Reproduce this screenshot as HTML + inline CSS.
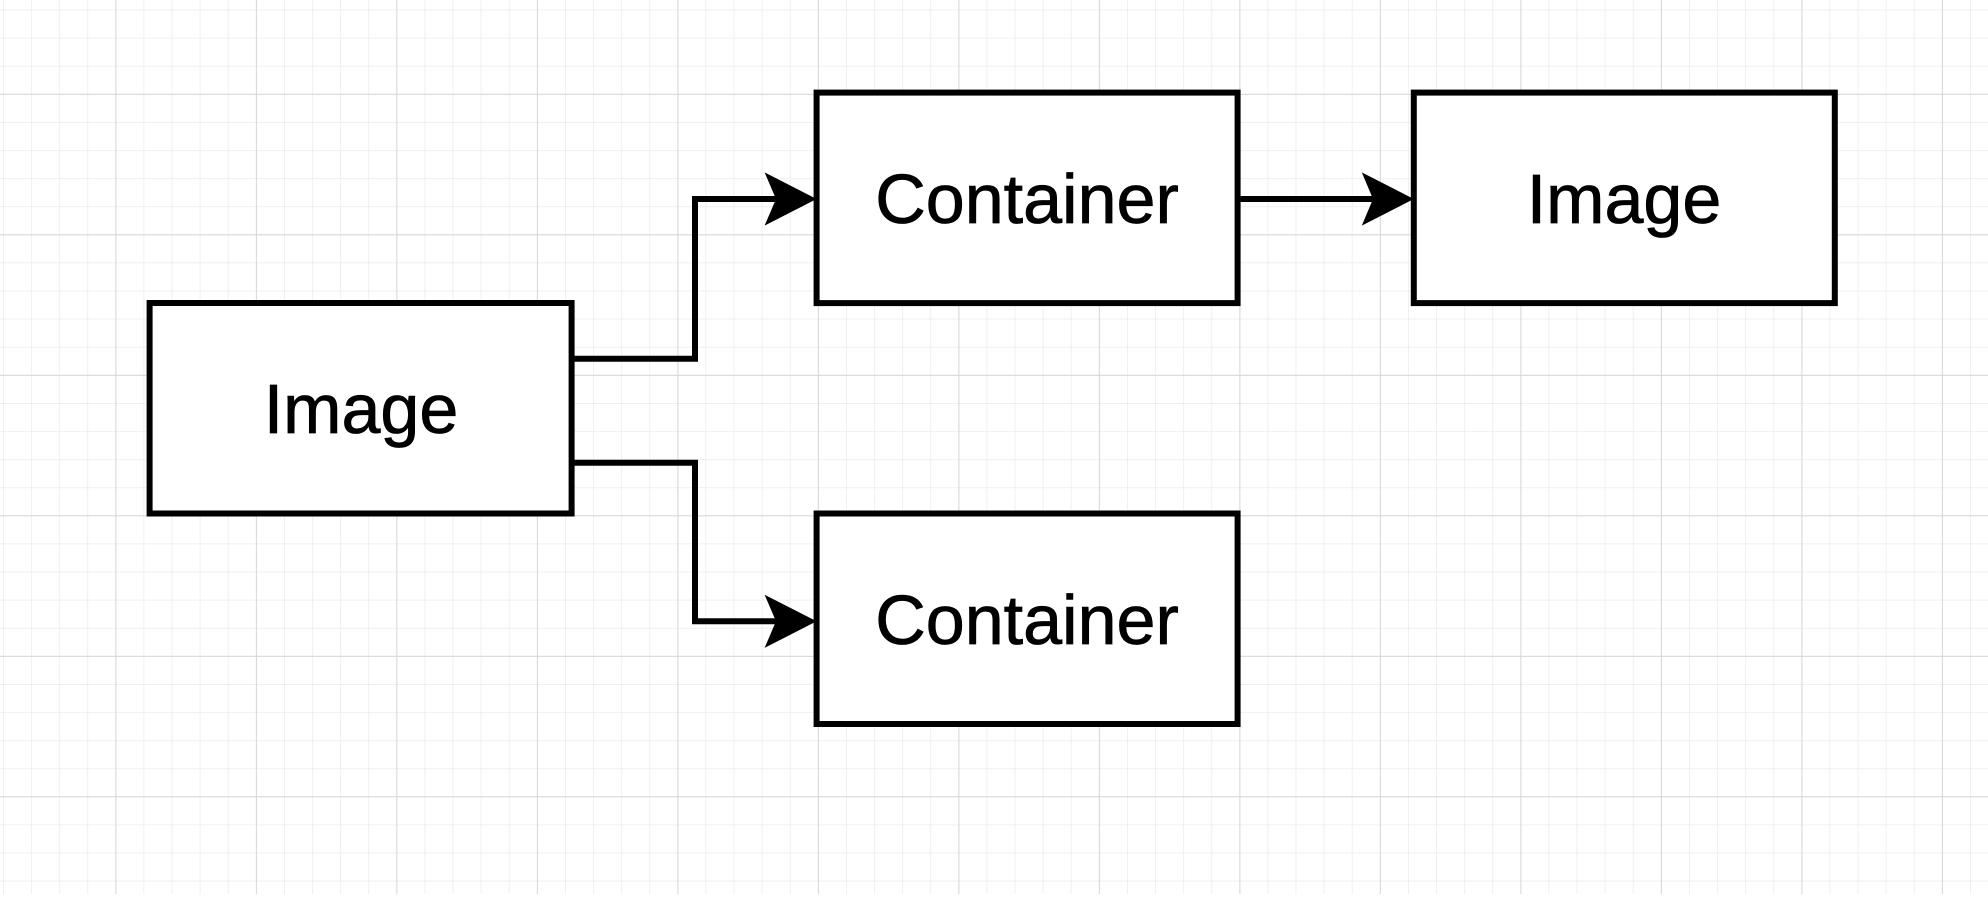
<!DOCTYPE html>
<html><head><meta charset="utf-8"><style>
html,body{margin:0;padding:0;background:#fff;}
body{width:1988px;height:894px;overflow:hidden;}
</style></head><body>
<svg width="1988" height="894" viewBox="0 0 1988 894" xmlns="http://www.w3.org/2000/svg">
<defs>
<pattern id="minor" x="3" y="9.6" width="28.1" height="28.1" patternUnits="userSpaceOnUse">
<path d="M0 0H28.1M0 0V28.1" stroke="#ebebeb" stroke-width="1.5" fill="none"/>
</pattern>
<pattern id="major" x="115.4" y="93.8" width="140.5" height="140.5" patternUnits="userSpaceOnUse">
<path d="M0 0H140.5M0 0V140.5" stroke="#d6d6d6" stroke-width="2" fill="none"/>
</pattern>
</defs>
<rect width="1988" height="894" fill="#fff"/>
<rect width="1988" height="894" fill="url(#minor)"/>
<rect width="1988" height="894" fill="url(#major)"/>
<g fill="#fff" stroke="#000" stroke-width="6">
<rect x="149.6" y="303" width="422" height="210.5"/>
<rect x="816.6" y="92.6" width="421" height="210.5"/>
<rect x="1413.8" y="92.6" width="421" height="210.5"/>
<rect x="816.6" y="513.5" width="421" height="210.5"/>
</g>
<g fill="none" stroke="#000" stroke-width="6">
<path d="M572 358.8H695V199H780"/>
<path d="M572 462.8H695V621.3H780"/>
<path d="M1238 199H1378"/>
</g>
<g fill="#000">
<path d="M816.6 199L764.6 172.4L776 199L764.6 225.6Z"/>
<path d="M816.6 621.3L764.6 594.7L776 621.3L764.6 647.9Z"/>
<path d="M1413.8 199L1361.8 172.4L1373 199L1361.8 225.6Z"/>
</g>
<g font-family="Liberation Sans, sans-serif" font-size="70" text-anchor="middle" fill="#000" stroke="#000" stroke-width="0.8">
<text x="361" y="433">Image</text>
<text x="1027" y="223">Container</text>
<text x="1624" y="223">Image</text>
<text x="1027" y="644">Container</text>
</g>
</svg>
</body></html>
